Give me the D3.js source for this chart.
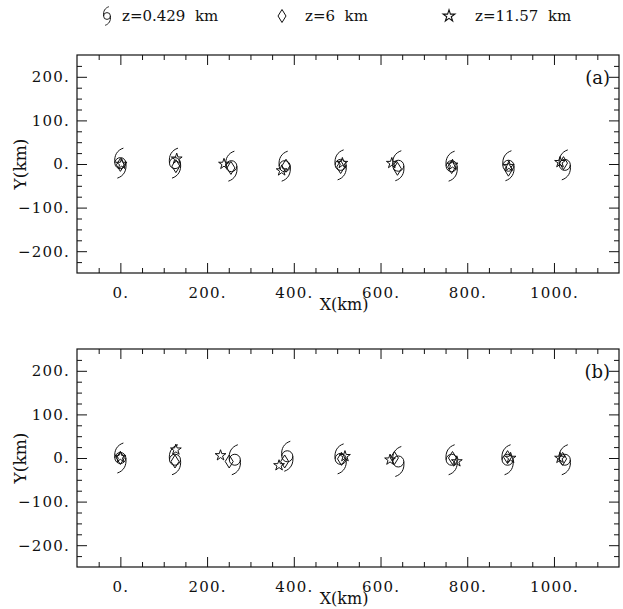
<!DOCTYPE html>
<html>
<head>
<meta charset="utf-8">
<script src="https://cdn.jsdelivr.net/npm/d3@7"></script>
<style>
  body { margin: 0; background: #fff; }
  text { font-family: "DejaVu Serif", serif; fill: #111; }
  .tick text { font-size: 15px; letter-spacing: 1.2px; }
</style>
</head>
<body>
<svg id="graph" width="623" height="609"></svg>
<script>
// vortex centres (km) at each of the 9 output times, panel (a) and (b)
const levels = ["z=0.429  km", "z=6  km", "z=11.57  km"];

const aLow = [[0, 2], [126, 2], [256, -5], [379, -5], [508, -2], [641, -4], [764, -5], [895, -4], [1025, -2]];
const aMid = [[0, -2], [128, -5], [255, -9], [382, -4], [508, -7], [639, -11], [764, -7], [895, -13], [1022, 2]];
const aTop = [[3, 0], [130, 12], [239, 0], [372, -15], [512, 2], [626, 2], [766, -2], [896, -5], [1014, 4]];

const bLow = [[0, 0], [126, -4], [264, -4], [385, 4], [508, -2], [641, -8], [764, -4], [893, -4], [1025, -4]];
const bMid = [[0, 0], [126, -8], [251, -8], [379, -8], [510, -2], [632, 0], [766, 0], [893, 2], [1020, -2]];
const bTop = [[0, 2], [128, 19], [231, 6], [366, -17], [518, 4], [622, -4], [776, -8], [900, 0], [1014, 0]];

const xMajor = [0, 200, 400, 600, 800, 1000];
const yMajor = [-200, -100, 0, 100, 200];

const svg = d3.select("#graph");

const x = d3.scaleLinear().domain([-100, 1150]).range([77, 619]);

// marker shapes
const hurricane = "M0,-5.5A5.5,5.5 0 1,1 0,5.5A5.5,5.5 0 1,1 0,-5.5Z" +
  "M-5.5,0C-6.5,-8 -3,-13 3,-15M5.5,0C6.5,8 3,13 -3,15";
const diamond = "M0,-6.5L4,0L0,6.5L-4,0Z";
const star = d3.symbol(d3.symbolStar, 36)();

const fmt = (d) => d3.format("d")(d) + ".";

function panel(top, bottom, low, mid, hi, tag) {
  const y = d3.scaleLinear().domain([-250, 250]).range([bottom, top]);
  const g = svg.append("g");

  g.append("rect")
    .attr("x", x(-100)).attr("y", y(250))
    .attr("width", x(1150) - x(-100)).attr("height", y(-250) - y(250))
    .attr("fill", "none").attr("stroke", "#111").attr("stroke-width", 1.2);

  const xMinor = d3.range(-50, 1150, 50).filter((d) => d % 200 !== 0);
  const yMinor = d3.range(-225, 250, 25).filter((d) => d % 100 !== 0);

  function ticks(axis, pos, major, minor, labels) {
    const ga = g.append("g").attr("transform", pos)
      .call(axis(major === x ? x : y).tickValues(minor).tickSize(-5).tickFormat(""));
    ga.select(".domain").remove();
    const gb = g.append("g").attr("transform", pos)
      .call(axis(major === x ? x : y).tickValues(major === x ? xMajor : yMajor)
        .tickSize(-10).tickPadding(labels ? (major === x ? 14 : 7) : 0).tickFormat(labels ? fmt : ""));
    gb.select(".domain").remove();
    g.selectAll(".tick line").attr("stroke", "#111");
    return gb;
  }
  ticks(d3.axisBottom, `translate(0,${y(-250)})`, x, xMinor, true);
  ticks(d3.axisTop, `translate(0,${y(250)})`, x, xMinor, false);
  ticks(d3.axisLeft, `translate(${x(-100)},0)`, y, yMinor, true);
  ticks(d3.axisRight, `translate(${x(1150)},0)`, y, yMinor, false);
  g.selectAll(".tick text").attr("fill", "#111").attr("font-family", null).attr("font-size", null);

  g.append("text")
    .attr("transform", `translate(26,${(top + bottom) / 2}) rotate(-90)`)
    .attr("text-anchor", "middle").attr("font-size", 17).text("Y(km)");
  g.append("text")
    .attr("x", (x(-100) + x(1150)) / 2 - 4).attr("y", bottom + 37)
    .attr("text-anchor", "middle").attr("font-size", 16).text("X(km)");
  g.append("text")
    .attr("x", 610).attr("y", top + 29)
    .attr("text-anchor", "end").attr("font-size", 18).text(tag);

  const sets = [[low, hurricane], [mid, diamond], [hi, star]];
  sets.forEach(([pts, shape]) => {
    g.append("g").selectAll("path").data(pts).join("path")
      .attr("transform", (d) => `translate(${x(d[0])},${y(d[1])})`)
      .attr("d", shape)
      .attr("fill", "none").attr("stroke", "#111").attr("stroke-width", 1);
  });
}

panel(55, 273, aLow, aMid, aTop, "(a)");
panel(349, 567, bLow, bMid, bTop, "(b)");

// legend
const legend = svg.append("g");
const lx = [107, 282, 449];
const lt = [122, 305, 475];
[hurricane, diamond, star].forEach((shape, i) => {
  legend.append("path")
    .attr("transform", `translate(${lx[i]},16)` + (i === 0 ? " scale(0.62)" : i === 2 ? " scale(1.1)" : ""))
    .attr("d", shape)
    .attr("fill", "none").attr("stroke", "#111")
    .attr("stroke-width", i === 0 ? 1.5 : 1);
  legend.append("text")
    .attr("x", lt[i]).attr("y", 21)
    .attr("font-size", 15).style("white-space", "pre")
    .text(levels[i]);
});
</script>
</body>
</html>
